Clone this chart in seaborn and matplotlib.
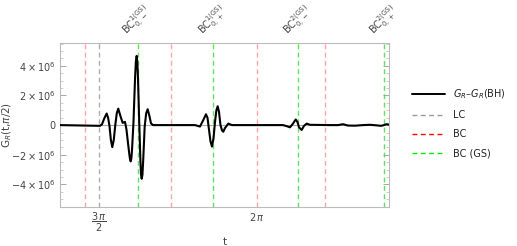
import numpy as np
import pandas as pd
import seaborn as sns
import matplotlib.pyplot as plt
from matplotlib.lines import Line2D
from matplotlib.ticker import FixedLocator, MultipleLocator
import matplotlib.transforms as mtransforms

# curve: t and G_R - G_R(BH) (in units of 1e6)
t_vals = [
    4.3285, 4.7253, 4.745, 4.768, 4.7918, 4.8057, 4.8195, 4.8334, 4.8473,
    4.8622, 4.8771, 4.892, 4.9068, 4.9287, 4.9505, 4.9733, 4.9882, 5.0031,
    5.017, 5.0234, 5.0299, 5.0368, 5.0438, 5.0577, 5.0735, 5.0815, 5.0894,
    5.0954, 5.1018, 5.1142, 5.1266, 5.1328, 5.139, 5.1465, 5.1539, 5.1688,
    5.1837, 5.1985, 5.2164, 5.2313, 5.2511, 5.271,
    5.6678, 5.7174, 5.7472, 5.7769, 5.7918, 5.8067, 5.8216, 5.8365, 5.8514,
    5.8663, 5.8801, 5.893, 5.9059, 5.9208, 5.9357, 5.9486, 5.9654, 5.9982,
    6.0349, 6.2135, 6.541, 6.5813, 6.6102, 6.64, 6.6668, 6.6847, 6.6996,
    6.7264, 6.7492, 6.7759, 6.8087, 7.0071, 7.0865, 7.1361, 7.1857, 7.2551,
    7.3345, 7.404, 7.4734, 7.5131, 7.5429, 7.5677, 7.5954,
]
g_vals = [
    0.0, -0.05, 0.05, 0.45, 0.78, 0.5, -0.05, -1.0, -1.49,
    -1.0, 0.0, 0.8, 1.11, 0.6, 0.15, 0.22, -0.3, -1.2,
    -2.0, -2.3, -2.45, -2.25, -1.6, 0.2, 3.2, 4.3, 4.67,
    4.3, 3.3, 0.3, -2.4, -3.35, -3.62, -3.35, -2.4, -0.1,
    0.8, 1.07, 0.6, 0.12, 0.0, 0.0,
    0.0, -0.1, 0.3, 0.73, 0.5, -0.3, -1.1, -1.45, -0.9,
    0.2, 1.0, 1.27, 0.9, 0.0, -0.35, -0.45, -0.2, 0.1,
    0.0, 0.0, 0.0, -0.08, -0.15, 0.1, 0.38, 0.2, -0.15,
    -0.33, -0.05, 0.1, 0.02, 0.0, 0.0, 0.06, -0.03, -0.04,
    0.0, 0.02, -0.02, -0.05, 0.0, 0.06, 0.03,
]

# vertical markers
lc_times = [4.7124]
bc_times = [4.576, 5.430, 6.2832, 6.957]
gs_times = [5.099, 5.849, 6.693, 7.546]
gs_labels = [
    r"BC$_{0,-}^{1\mathrm{(GS)}}$",
    r"BC$_{0,+}^{1\mathrm{(GS)}}$",
    r"BC$_{0,-}^{2\mathrm{(GS)}}$",
    r"BC$_{0,+}^{2\mathrm{(GS)}}$",
]

# axis ticks
x_ticks = [3 * np.pi / 2, 2 * np.pi]
x_ticklabels = [r"$\dfrac{3\,\pi}{2}$", r"$2\,\pi$"]
y_ticks = [-4e6, -2e6, 0, 2e6, 4e6]
y_ticklabels = [r"$-4\times10^6$", r"$-2\times10^6$", "0",
                r"$2\times10^6$", r"$4\times10^6$"]

sns.set_style("white")
plt.rcParams["font.family"] = ["DejaVu Sans"]
plt.rcParams["mathtext.fontset"] = "dejavusans"
txt_color = "#444444"

df = pd.DataFrame({"t": t_vals, "G": np.array(g_vals) * 1e6})

fig = plt.figure(figsize=(5.17, 2.46), dpi=100)
ax = fig.add_axes([0.116, 0.160, 0.637, 0.666])

ax.axhline(0, color="#aaaaaa", lw=0.8, zorder=1)

dash = (0, (3.5, 2.5))
for t in bc_times:
    ax.axvline(t, color="#ff6666", alpha=0.6, lw=1.0, ls=dash, zorder=2)
for t in lc_times:
    ax.axvline(t, color="#999999", alpha=0.8, lw=1.0, ls=dash, zorder=2)
for t in gs_times:
    ax.axvline(t, color="#33dd33", alpha=0.8, lw=1.0, ls=dash, zorder=2)

sns.lineplot(data=df, x="t", y="G", color="black", lw=1.5, ax=ax,
             sort=False, zorder=3)
ax.lines[-1].set_solid_joinstyle("round")

ax.set_xlim(4.3285, 7.5954)
ax.set_ylim(-5.5e6, 5.55e6)

ax.xaxis.set_major_locator(FixedLocator(x_ticks))
ax.set_xticklabels(x_ticklabels, fontsize=7, color=txt_color)
ax.yaxis.set_major_locator(FixedLocator(y_ticks))
ax.set_yticklabels(y_ticklabels, fontsize=7, color=txt_color)
ax.yaxis.set_minor_locator(MultipleLocator(0.5e6))
ax.tick_params(axis="y", which="major", direction="in", length=4,
               color="#999999", width=0.6, pad=3, left=True, right=True)
ax.tick_params(axis="y", which="minor", direction="in", length=2,
               color="#bbbbbb", width=0.5, left=True, right=True)
ax.tick_params(axis="x", which="major", direction="in", length=0, pad=3)

for s in ax.spines.values():
    s.set_color("#bbbbbb")
    s.set_linewidth(0.8)

ax.set_xlabel("t", fontsize=7.5, color=txt_color, labelpad=2)
ax.set_ylabel(r"$\mathrm{G}_R$(t,$\pi$/2)", fontsize=7.5, color=txt_color)
ax.yaxis.set_label_coords(-0.14, 0.5)

trans = mtransforms.blended_transform_factory(ax.transData, ax.transAxes)
for t, lab in zip(gs_times, gs_labels):
    ax.text(t, 1.02, lab, transform=trans, rotation=45, ha="center",
            va="bottom", fontsize=7, color=txt_color)

handles = [
    Line2D([], [], color="black", lw=1.4),
    Line2D([], [], color="#999999", lw=1.0, ls=dash),
    Line2D([], [], color="#ff0000", lw=1.0, ls=dash),
    Line2D([], [], color="#00ee00", lw=1.0, ls=dash),
]
labels = [r"$G_R$–$G_R$(BH)", "LC", "BC", "BC (GS)"]
leg = fig.legend(handles, labels, loc="center left",
                 bbox_to_anchor=(0.797, 0.5), frameon=False, fontsize=7,
                 handlelength=3.4, handletextpad=0.8, labelspacing=0.95,
                 borderpad=0, borderaxespad=0)
for tx in leg.get_texts():
    tx.set_color("#222222")

fig.savefig("out.png", dpi=100)
